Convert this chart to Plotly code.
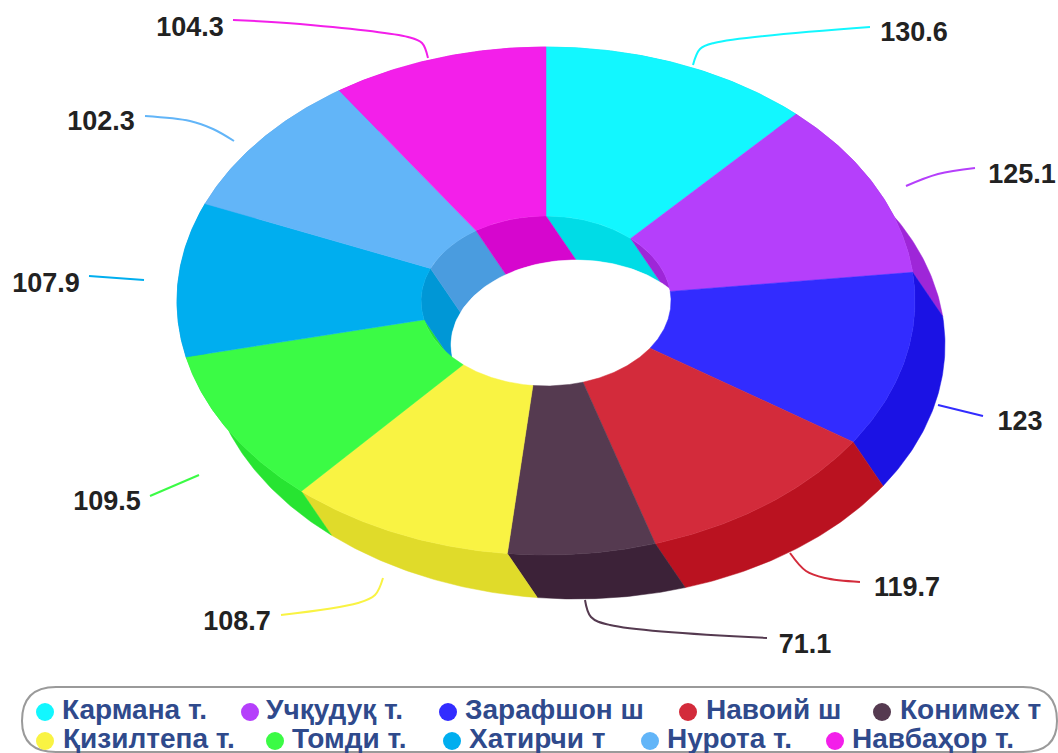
import numpy as np
import plotly.graph_objects as go

categories = ["Кармана т.", "Учқудуқ т.", "Зарафшон ш", "Навоий ш", "Конимех т",
              "Қизилтепа т.", "Томди т.", "Хатирчи т", "Нурота т.", "Навбаҳор т."]
values = [130.6, 125.1, 123, 119.7, 71.1, 108.7, 109.5, 107.9, 102.3, 104.3]
top_colors = ["#12F7FF", "#B53FFB", "#322CFF", "#D32B3B", "#553A50",
              "#F9F343", "#3BFB45", "#00AEEF", "#62B5F8", "#F31FEA"]
side_colors = ["#00DCE6", "#9E26D8", "#1B12E4", "#BA1220", "#3C2238",
               "#E0DB2A", "#27E431", "#0097D6", "#4A9CDF", "#D606CE"]

# projected pie geometry, in pixels
CX, CY, RX, RY = 546, 301, 369, 254
IRX, IRY = 125, 85
DX, DY = 30, 44

# label positions and leader curves
label_pos = [(914, 34), (1022, 176), (1020, 423), (907, 589), (805, 646),
             (237, 623), (107, 503), (46, 285), (101, 123), (190, 29)]
leaders = [
    [(693, 65), (700, 49), (714, 43), (870, 27)],
    [(906, 186), (938, 174), (975, 168)],
    [(938, 405), (983, 416)],
    [(790, 553), (806, 571), (825, 578), (860, 582)],
    [(585, 600), (591, 617), (610, 625), (767, 638)],
    [(383, 578), (375, 595), (358, 603), (281, 615)],
    [(199, 475), (150, 496)],
    [(89, 276), (144, 280)],
    [(145, 116), (190, 121), (213, 129), (234, 141)],
    [(233, 20), (300, 24), (408, 37), (422, 43), (428, 58)],
]
legend_rows = [
    [(45, 62), (250, 266), (448, 465), (688, 706), (882, 900)],
    [(45, 63), (275, 292), (452, 469), (650, 667), (835, 852)],
]
legend_y = [712, 741]
legend_text_y = [712, 741]


def arc(a0, a1, rx, ry, dx=0, dy=0, n=60):
    t = np.linspace(a0, a1, n)
    return CX + dx + rx * np.sin(t), CY + dy - ry * np.cos(t)


def poly(fig, x, y, color):
    fig.add_trace(go.Scatter(x=x, y=y, mode="lines", fill="toself", fillcolor=color,
                             line=dict(color=color, width=0.5), hoverinfo="skip",
                             showlegend=False))


edges = np.concatenate([[0], np.cumsum(values)]) / sum(values) * 2 * np.pi
fig = go.Figure()

# outer walls
for i, col in enumerate(side_colors):
    xa, ya = arc(edges[i], edges[i + 1], RX, RY)
    xb, yb = arc(edges[i + 1], edges[i], RX, RY, DX, DY)
    poly(fig, np.r_[xa, xb, xa[0]], np.r_[ya, yb, ya[0]], col)

# inner walls
for i, col in enumerate(side_colors):
    xa, ya = arc(edges[i], edges[i + 1], IRX, IRY)
    xb, yb = arc(edges[i + 1], edges[i], IRX, IRY, DX, DY)
    poly(fig, np.r_[xa, xb, xa[0]], np.r_[ya, yb, ya[0]], col)

# the see-through part of the hole
xh, yh = arc(0, 2 * np.pi, IRX, IRY, DX, DY, 200)
poly(fig, xh, yh, "#FFFFFF")

# top faces
for i, col in enumerate(top_colors):
    xa, ya = arc(edges[i], edges[i + 1], RX, RY)
    xb, yb = arc(edges[i + 1], edges[i], IRX, IRY)
    poly(fig, np.r_[xa, xb, xa[0]], np.r_[ya, yb, ya[0]], col)

# leaders and value labels
for i, pts in enumerate(leaders):
    fig.add_trace(go.Scatter(x=[p[0] for p in pts], y=[p[1] for p in pts], mode="lines",
                             line=dict(color=top_colors[i], width=2, shape="spline", smoothing=1),
                             hoverinfo="skip", showlegend=False))
    fig.add_trace(go.Scatter(x=[label_pos[i][0]], y=[label_pos[i][1]], mode="text",
                             text=[f"{values[i]:g}"], textposition="middle center",
                             textfont=dict(family="Liberation Sans", size=27, color="#222222",
                                           weight="bold"),
                             hoverinfo="skip", showlegend=False, cliponaxis=False))

# legend
k = 0
for r, row in enumerate(legend_rows):
    for mx, tx in row:
        fig.add_trace(go.Scatter(x=[mx], y=[legend_y[r]], mode="markers",
                                 marker=dict(color=top_colors[k], size=18),
                                 hoverinfo="skip", showlegend=False))
        fig.add_trace(go.Scatter(x=[tx], y=[legend_text_y[r]], mode="text", text=[categories[k]],
                                 textposition="middle right",
                                 textfont=dict(family="Liberation Sans", size=28, color="#2F4A8C",
                                               weight="bold"),
                                 hoverinfo="skip", showlegend=False, cliponaxis=False))
        k += 1

L, T, R, B, C = 22, 687, 1057, 752, 34
fig.add_shape(type="path", xref="x", yref="y",
              path=f"M{L + C},{T} L{R - C},{T} Q{R},{T} {R},{T + C} Q{R},{B} {R - C},{B} "
                   f"L{L + C},{B} Q{L},{B} {L},{T + C} Q{L},{T} {L + C},{T} Z",
              line=dict(color="#9A9A9A", width=2), layer="below")

fig.update_layout(width=1058, height=753, margin=dict(l=0, r=0, t=0, b=0),
                  paper_bgcolor="#FFFFFF", plot_bgcolor="#FFFFFF", showlegend=False,
                  xaxis=dict(range=[0, 1058], visible=False, fixedrange=True),
                  yaxis=dict(range=[753, 0], visible=False, fixedrange=True))

fig.write_html("out.html", config={"displayModeBar": False},
               post_script="document.body.style.margin='0';document.body.style.overflow='hidden';")
